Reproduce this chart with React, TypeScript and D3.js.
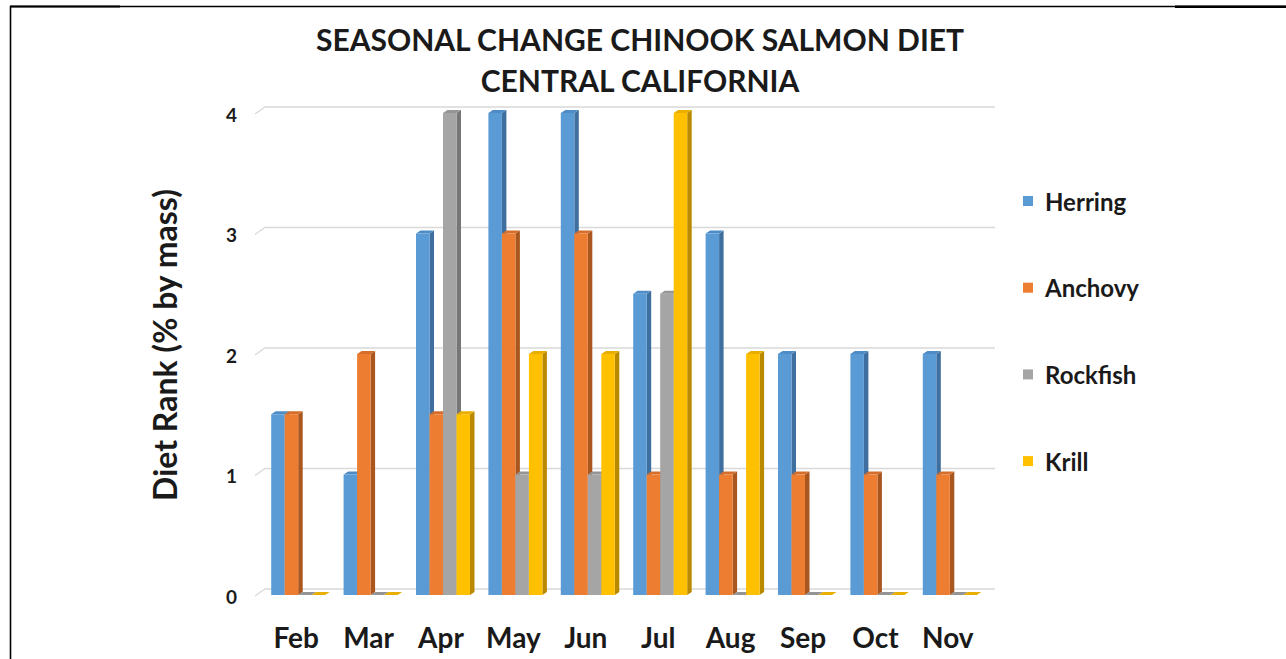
import React from "react";
import * as d3 from "d3";

const months = ["Feb", "Mar", "Apr", "May", "Jun", "Jul", "Aug", "Sep", "Oct", "Nov"];
const seriesNames = ["Herring", "Anchovy", "Rockfish", "Krill"];
const herring = [1.5, 1, 3, 4, 4, 2.5, 3, 2, 2, 2];
const anchovy = [1.5, 2, 1.5, 3, 3, 1, 1, 1, 1, 1];
const rockfish = [0, 0, 4, 1, 1, 2.5, 0, 0, 0, 0];
const krill = [0, 0, 1.5, 2, 2, 4, 2, 0, 0, 0];
const yTicks = [0, 1, 2, 3, 4];
const titleLines = ["SEASONAL CHANGE CHINOOK SALMON DIET", "CENTRAL CALIFORNIA"];
const yAxisTitle = "Diet Rank (% by mass)";

const seriesValues = [herring, anchovy, rockfish, krill];
const fronts = ["#5B9BD5", "#ED7D31", "#A5A5A5", "#FFC000"];
const sides = ["#3F6F9E", "#A9561F", "#767676", "#B98A00"];
const tops = ["#4F8CC6", "#D56E2A", "#959595", "#E8AE00"];

const W = 1286;
const H = 659;
const FONT = "Lato, 'Open Sans', sans-serif";

export default function App() {
  const x = d3.scaleBand<string>().domain(months).range([262, 986]).paddingInner(0.254).paddingOuter(0.127);
  const xs = d3.scaleBand<string>().domain(seriesNames).range([0, x.bandwidth()]).padding(0);
  const y = d3.scaleLinear().domain([0, 4]).range([595, 113]);
  const dx = 4.5;
  const dy = 3;
  const w = xs.bandwidth();
  const gridLeftFront = 255;
  const gridLeftBack = 265;
  const gridRight = 995;
  const gridShift = 6;

  const bars: React.ReactNode[] = [];
  months.forEach((m, i) => {
    seriesNames.forEach((s, k) => {
      const v = seriesValues[k][i];
      const x0 = (x(m) as number) + (xs(s) as number);
      const yt = y(v);
      const yb = y(0);
      const x1 = x0 + w;
      bars.push(
        <g key={m + s}>
          <polygon
            points={`${x1},${yt} ${x1 + dx},${yt - dy} ${x1 + dx},${yb - dy} ${x1},${yb}`}
            fill={sides[k]}
          />
          <polygon
            points={`${x0},${yt} ${x1},${yt} ${x1 + dx},${yt - dy} ${x0 + dx},${yt - dy}`}
            fill={tops[k]}
          />
          {v > 0 && <rect x={x0} y={yt} width={w} height={yb - yt} fill={fronts[k]} />}
        </g>
      );
    });
  });

  return (
    <svg
      width={W}
      height={H}
      style={{ position: "absolute", left: 0, top: 0, background: "#fff" }}
      fontFamily={FONT}
    >
      <rect x={0} y={0} width={W} height={H} fill="#fff" />
      {/* border */}
      <line x1={10} y1={6.5} x2={W} y2={6.5} stroke="#000" strokeWidth={1.3} />
      <line x1={10} y1={6.5} x2={120} y2={6.5} stroke="#000" strokeWidth={2} />
      <line x1={1175} y1={6.8} x2={W} y2={6.8} stroke="#000" strokeWidth={2.4} />
      <line x1={10.5} y1={6} x2={10.5} y2={H} stroke="#000" strokeWidth={1.6} />

      {/* title */}
      {titleLines.map((t, i) => (
        <text
          key={t}
          x={640}
          y={51 + i * 41}
          textAnchor="middle"
          fontWeight={700}
          fontSize={30}
          fill="#1a1a1a"
        >
          {t}
        </text>
      ))}

      {/* gridlines */}
      {yTicks.map((t) => (
        <g key={t}>
          <polyline
            points={`${gridLeftFront},${y(t) + 1} ${gridLeftBack},${y(t) - gridShift} ${gridRight},${y(t) - gridShift}`}
            fill="none"
            stroke="#D9D9D9"
            strokeWidth={1.3}
          />
          <text x={237} y={y(t) + 1} textAnchor="end" dominantBaseline="central" fontWeight={700} fontSize={19} fill="#1a1a1a">
            {t}
          </text>
        </g>
      ))}

      {bars}

      {/* x labels */}
      {months.map((m) => (
        <text
          key={m}
          x={(x(m) as number) + x.bandwidth() / 2 - 2}
          y={637}
          textAnchor="middle"
          dominantBaseline="central"
          fontWeight={700}
          fontSize={28}
          fill="#1a1a1a"
        >
          {m}
        </text>
      ))}

      {/* y title */}
      <text
        transform={`translate(164,345) rotate(-90)`}
        textAnchor="middle"
        dominantBaseline="central"
        fontWeight={700}
        fontSize={32}
        fill="#1a1a1a"
      >
        {yAxisTitle}
      </text>

      {/* legend */}
      {seriesNames.map((s, k) => (
        <g key={s} transform={`translate(1023,${201 + k * 86.7})`}>
          <rect x={0} y={-5} width={10} height={10} fill={fronts[k]} />
          <text x={22} y={0} dominantBaseline="central" fontWeight={700} fontSize={24} fill="#1a1a1a">
            {s}
          </text>
        </g>
      ))}
    </svg>
  );
}
